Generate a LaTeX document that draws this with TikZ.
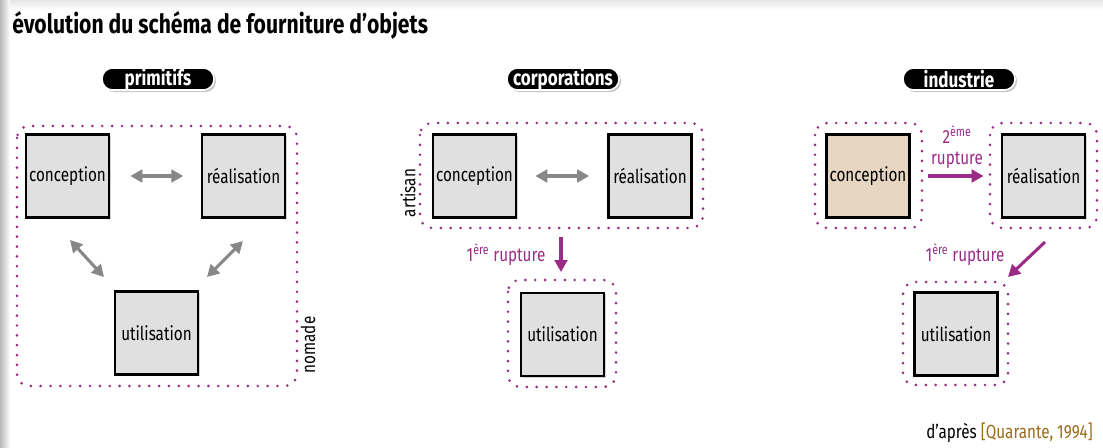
\documentclass[tikz,border=0pt]{standalone}
\usepackage{fontspec}
\setmainfont[FakeStretch=0.8]{Fira Sans}
\usetikzlibrary{arrows.meta,shadows}
\definecolor{boxgray}{HTML}{E0E0E0}
\definecolor{tan}{HTML}{E6D6C2}
\definecolor{arrowgray}{HTML}{858789}
\definecolor{magenta}{HTML}{9B2C86}
\definecolor{citebrown}{HTML}{9C6B1E}
\begin{document}
\begin{tikzpicture}[x=0.75pt,y=-0.75pt,
  box/.style={draw=black, line width=1.8pt, fill=boxgray, minimum width=62.5pt, minimum height=62.5pt,
    inner sep=0pt, font=\fontsize{14.3}{16}\selectfont,
    drop shadow={shadow xshift=1.2pt, shadow yshift=-1.2pt, opacity=0.35}},
  pill/.style={fill=black, draw=white, line width=1.2pt, rounded corners=8pt, text=white,
    font=\bfseries\fontsize{16}{18}\selectfont, minimum width=84pt, minimum height=16.5pt, inner sep=0pt,
    drop shadow={shadow xshift=1.5pt, shadow yshift=-1.5pt, opacity=0.45}},
  frame/.style={draw=magenta, line width=2.2pt, line cap=round, dash pattern=on 0pt off 7.4pt, rounded corners=9pt},
  garrow/.style={draw=arrowgray, line width=2.3pt, {Triangle[length=9pt,width=9.5pt]}-{Triangle[length=9pt,width=9.5pt]}},
  marrow/.style={draw=magenta, line width=2.3pt, -{Triangle[length=9pt,width=9.5pt]}},
  lbl/.style={font=\fontsize{14.3}{16}\selectfont, inner sep=0pt},
  mlbl/.style={font=\fontsize{14.3}{16}\selectfont, text=magenta, inner sep=0pt, align=center}]
\useasboundingbox (0,0) rectangle (1103,447);
\fill[white] (0,0) rectangle (1103,447);
\shade[left color=black!28, right color=white] (0,0) rectangle (10,447);
\shade[top color=black!10, bottom color=white] (10,0) rectangle (1103,10);
\fill[white] (10,10) rectangle (1103,447);

% title
\node[anchor=base west, inner sep=0pt, font=\bfseries\fontsize{19.8}{22}\selectfont] (title) at (12,33) {évolution du schéma de fourniture d’objets};

% pills
\node[pill] (p1) at (158,79) {primitifs};
\node[pill] (p2) at (563,79) {corporations};
\node[pill] (p3) at (959,79) {industrie};

% panel 1
\draw[frame] (17,126) rectangle (297,386);
\node[box] (c1) at (67.5,176) {conception};
\node[box] (r1) at (243.5,176) {réalisation};
\node[box] (u1) at (156.5,333) {utilisation};
\draw[garrow, shorten <=15pt, shorten >=13pt] (c1) -- (r1);
\coordinate (d1a) at (70,240);
\coordinate (d1b) at (104,277);
\coordinate (d2a) at (243,241);
\coordinate (d2b) at (207,277);
\draw[garrow] (d1a) -- (d1b);
\draw[garrow] (d2a) -- (d2b);
\node[lbl, rotate=90] (nomade) at (308,345) {nomade};

% panel 2
\draw[frame] (420,123) rectangle (703,228);
\draw[frame] (508,280) rectangle (616,387);
\node[box] (c2) at (474.5,176) {conception};
\node[box] (r2) at (650,176) {réalisation};
\node[box] (u2) at (562.5,334.5) {utilisation};
\draw[garrow, shorten <=13.5pt, shorten >=13.5pt] (c2) -- (r2);
\node[lbl, rotate=90] (artisan) at (408,193) {artisan};
\coordinate (e1a) at (561,237);
\coordinate (e1b) at (561,272);
\draw[marrow] (e1a) -- (e1b);
\node[mlbl] (rup2) at (506,255) {1\textsuperscript{ère} rupture};

% panel 3
\draw[frame] (815,123) rectangle (922,228);
\draw[frame] (990,123) rectangle (1097,228);
\draw[frame] (903,282) rectangle (1008,385);
\node[box, fill=tan] (c3) at (868,176) {conception};
\node[box] (r3) at (1043.5,176) {réalisation};
\node[box] (u3) at (956,334) {utilisation};
\draw[marrow, shorten <=12.75pt, shorten >=12.75pt] (c3) -- (r3);
\node[mlbl] (rup3b) at (957,147) {2\textsuperscript{ème}\\rupture};
\coordinate (f1a) at (1045,242);
\coordinate (f1b) at (1008,277);
\draw[marrow] (f1a) -- (f1b);
\node[mlbl] (rup3) at (965,255) {1\textsuperscript{ère} rupture};

% source
\node[lbl, anchor=base east] (src) at (1093,438) {d’après \textcolor{citebrown}{[Quarante, 1994]}};
\end{tikzpicture}
\end{document}
